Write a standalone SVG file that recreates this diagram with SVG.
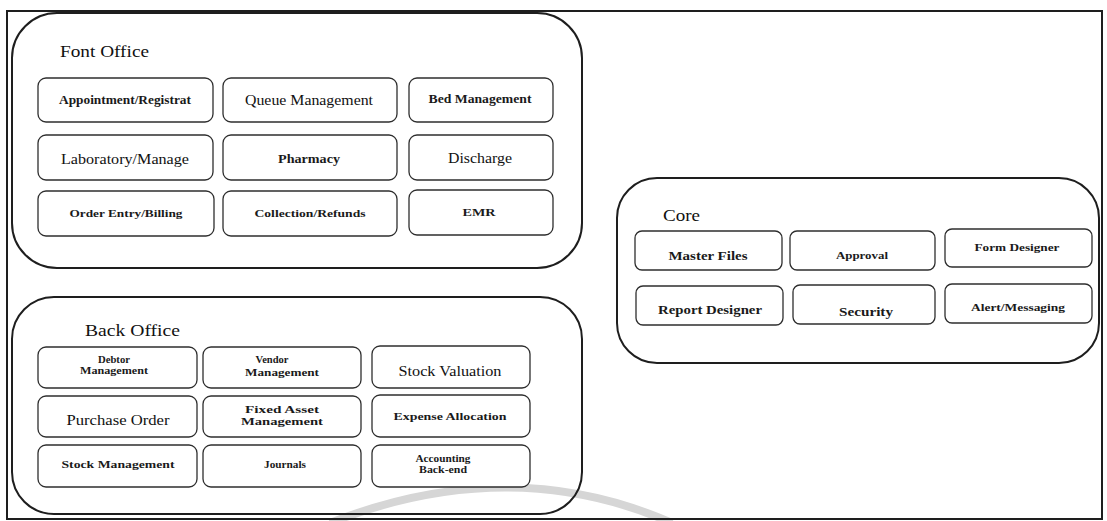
<svg xmlns="http://www.w3.org/2000/svg" width="1107" height="521" viewBox="0 0 1107 521">
  <style>
    .frame { fill: none; stroke: #1e1e1e; stroke-width: 2; }
    .group { fill: none; stroke: #1e1e1e; stroke-width: 2; }
    .mod { fill: #ffffff; stroke: #2e2e2e; stroke-width: 1.3; }
    .title { font-family: "Liberation Serif", "Times New Roman", serif; font-size: 17px; fill: #111; }
    .lbl { font-family: "Liberation Serif", "Times New Roman", serif; font-size: 12px; font-weight: bold; fill: #1a1a1a; text-anchor: middle; }
    .lbl.big { font-size: 14px; font-weight: normal; fill: #111; }
    .lbl.sm { font-size: 11px; }
    .lbl.xs { font-size: 10px; }
    .mark { fill: none; stroke: #d6d6d6; stroke-width: 8; }
  </style>

  <rect width="1107" height="521" fill="#ffffff"/>

  <!-- faint watermark arc near the bottom edge -->
  <path class="mark" d="M 330 523 Q 510 452 672 523"/>

  <!-- page frame -->
  <rect class="frame" x="7" y="11" width="1095" height="508"/>

  <!-- Front office -->
  <g id="front-office">
    <rect class="group" x="12" y="13" width="570" height="255" rx="45"/>
    <text class="title" x="60" y="57" textLength="89" lengthAdjust="spacingAndGlyphs">Font Office</text>
    <g id="fo-appointment">
      <rect class="mod" x="38" y="78" width="175" height="44" rx="8"/>
      <text class="lbl" x="125" y="104" textLength="132" lengthAdjust="spacingAndGlyphs">Appointment/Registrat</text>
    </g>
    <g id="fo-queue">
      <rect class="mod" x="223" y="78" width="174" height="44" rx="8"/>
      <text class="lbl big" x="309" y="105" textLength="128" lengthAdjust="spacingAndGlyphs">Queue Management</text>
    </g>
    <g id="fo-bed">
      <rect class="mod" x="409" y="78" width="144" height="44" rx="8"/>
      <text class="lbl" x="480" y="103" textLength="103" lengthAdjust="spacingAndGlyphs">Bed Management</text>
    </g>
    <g id="fo-laboratory">
      <rect class="mod" x="38" y="135" width="175" height="45" rx="8"/>
      <text class="lbl big" x="125" y="164" textLength="128" lengthAdjust="spacingAndGlyphs">Laboratory/Manage</text>
    </g>
    <g id="fo-pharmacy">
      <rect class="mod" x="223" y="135" width="174" height="45" rx="8"/>
      <text class="lbl" x="309" y="163" textLength="62" lengthAdjust="spacingAndGlyphs">Pharmacy</text>
    </g>
    <g id="fo-discharge">
      <rect class="mod" x="409" y="135" width="144" height="45" rx="8"/>
      <text class="lbl big" x="480" y="163" textLength="64" lengthAdjust="spacingAndGlyphs">Discharge</text>
    </g>
    <g id="fo-order-entry">
      <rect class="mod" x="38" y="191" width="176" height="45" rx="8"/>
      <text class="lbl sm" x="126" y="217" textLength="113" lengthAdjust="spacingAndGlyphs">Order Entry/Billing</text>
    </g>
    <g id="fo-collection">
      <rect class="mod" x="223" y="191" width="174" height="45" rx="8"/>
      <text class="lbl sm" x="310" y="217" textLength="111" lengthAdjust="spacingAndGlyphs">Collection/Refunds</text>
    </g>
    <g id="fo-emr">
      <rect class="mod" x="409" y="190" width="144" height="45" rx="8"/>
      <text class="lbl sm" x="479" y="216" textLength="33" lengthAdjust="spacingAndGlyphs">EMR</text>
    </g>
  </g>

  <!-- Back office -->
  <g id="back-office">
    <rect class="group" x="12" y="297" width="570" height="217" rx="42"/>
    <text class="title" x="85" y="336" textLength="95" lengthAdjust="spacingAndGlyphs">Back Office</text>
    <g id="bo-debtor">
      <rect class="mod" x="38" y="347" width="159" height="41" rx="8"/>
      <text class="lbl xs" x="114" y="363" textLength="32" lengthAdjust="spacingAndGlyphs">Debtor</text>
      <text class="lbl xs" x="114" y="374" textLength="68" lengthAdjust="spacingAndGlyphs">Management</text>
    </g>
    <g id="bo-vendor">
      <rect class="mod" x="203" y="347" width="158" height="41" rx="8"/>
      <text class="lbl xs" x="272" y="363" textLength="33" lengthAdjust="spacingAndGlyphs">Vendor</text>
      <text class="lbl xs" x="282" y="376" textLength="74" lengthAdjust="spacingAndGlyphs">Management</text>
    </g>
    <g id="bo-stock-valuation">
      <rect class="mod" x="372" y="346" width="158" height="42" rx="8"/>
      <text class="lbl big" x="450" y="376" textLength="103" lengthAdjust="spacingAndGlyphs">Stock Valuation</text>
    </g>
    <g id="bo-purchase-order">
      <rect class="mod" x="38" y="396" width="159" height="41" rx="8"/>
      <text class="lbl big" x="118" y="425" textLength="103" lengthAdjust="spacingAndGlyphs">Purchase Order</text>
    </g>
    <g id="bo-fixed-asset">
      <rect class="mod" x="203" y="396" width="158" height="41" rx="8"/>
      <text class="lbl sm" x="282" y="413" textLength="74" lengthAdjust="spacingAndGlyphs">Fixed Asset</text>
      <text class="lbl xs" x="282" y="425" textLength="82" lengthAdjust="spacingAndGlyphs">Management</text>
    </g>
    <g id="bo-expense">
      <rect class="mod" x="372" y="395" width="158" height="42" rx="8"/>
      <text class="lbl sm" x="450" y="420" textLength="113" lengthAdjust="spacingAndGlyphs">Expense Allocation</text>
    </g>
    <g id="bo-stock-management">
      <rect class="mod" x="38" y="445" width="159" height="42" rx="8"/>
      <text class="lbl sm" x="118" y="468" textLength="113" lengthAdjust="spacingAndGlyphs">Stock Management</text>
    </g>
    <g id="bo-journals">
      <rect class="mod" x="203" y="445" width="158" height="42" rx="8"/>
      <text class="lbl sm" x="285" y="468" textLength="42" lengthAdjust="spacingAndGlyphs">Journals</text>
    </g>
    <g id="bo-accounting">
      <rect class="mod" x="372" y="445" width="158" height="42" rx="8"/>
      <text class="lbl xs" x="443" y="462" textLength="55" lengthAdjust="spacingAndGlyphs">Accounting</text>
      <text class="lbl xs" x="443" y="473" textLength="48" lengthAdjust="spacingAndGlyphs">Back-end</text>
    </g>
  </g>

  <!-- Core -->
  <g id="core">
    <rect class="group" x="617" y="178" width="482" height="185" rx="40"/>
    <text class="title" x="663" y="221" textLength="37" lengthAdjust="spacingAndGlyphs">Core</text>
    <g id="core-master-files">
      <rect class="mod" x="635" y="231" width="147" height="39" rx="7"/>
      <text class="lbl" x="708" y="260" textLength="79" lengthAdjust="spacingAndGlyphs">Master Files</text>
    </g>
    <g id="core-approval">
      <rect class="mod" x="790" y="231" width="145" height="39" rx="7"/>
      <text class="lbl sm" x="862" y="259" textLength="52" lengthAdjust="spacingAndGlyphs">Approval</text>
    </g>
    <g id="core-form-designer">
      <rect class="mod" x="945" y="229" width="147" height="38" rx="7"/>
      <text class="lbl sm" x="1017" y="251" textLength="85" lengthAdjust="spacingAndGlyphs">Form Designer</text>
    </g>
    <g id="core-report-designer">
      <rect class="mod" x="636" y="286" width="147" height="39" rx="7"/>
      <text class="lbl" x="710" y="314" textLength="104" lengthAdjust="spacingAndGlyphs">Report Designer</text>
    </g>
    <g id="core-security">
      <rect class="mod" x="793" y="285" width="142" height="39" rx="7"/>
      <text class="lbl" x="866" y="316" textLength="54" lengthAdjust="spacingAndGlyphs">Security</text>
    </g>
    <g id="core-alert">
      <rect class="mod" x="945" y="284" width="147" height="39" rx="7"/>
      <text class="lbl sm" x="1018" y="311" textLength="94" lengthAdjust="spacingAndGlyphs">Alert/Messaging</text>
    </g>
  </g>
</svg>
